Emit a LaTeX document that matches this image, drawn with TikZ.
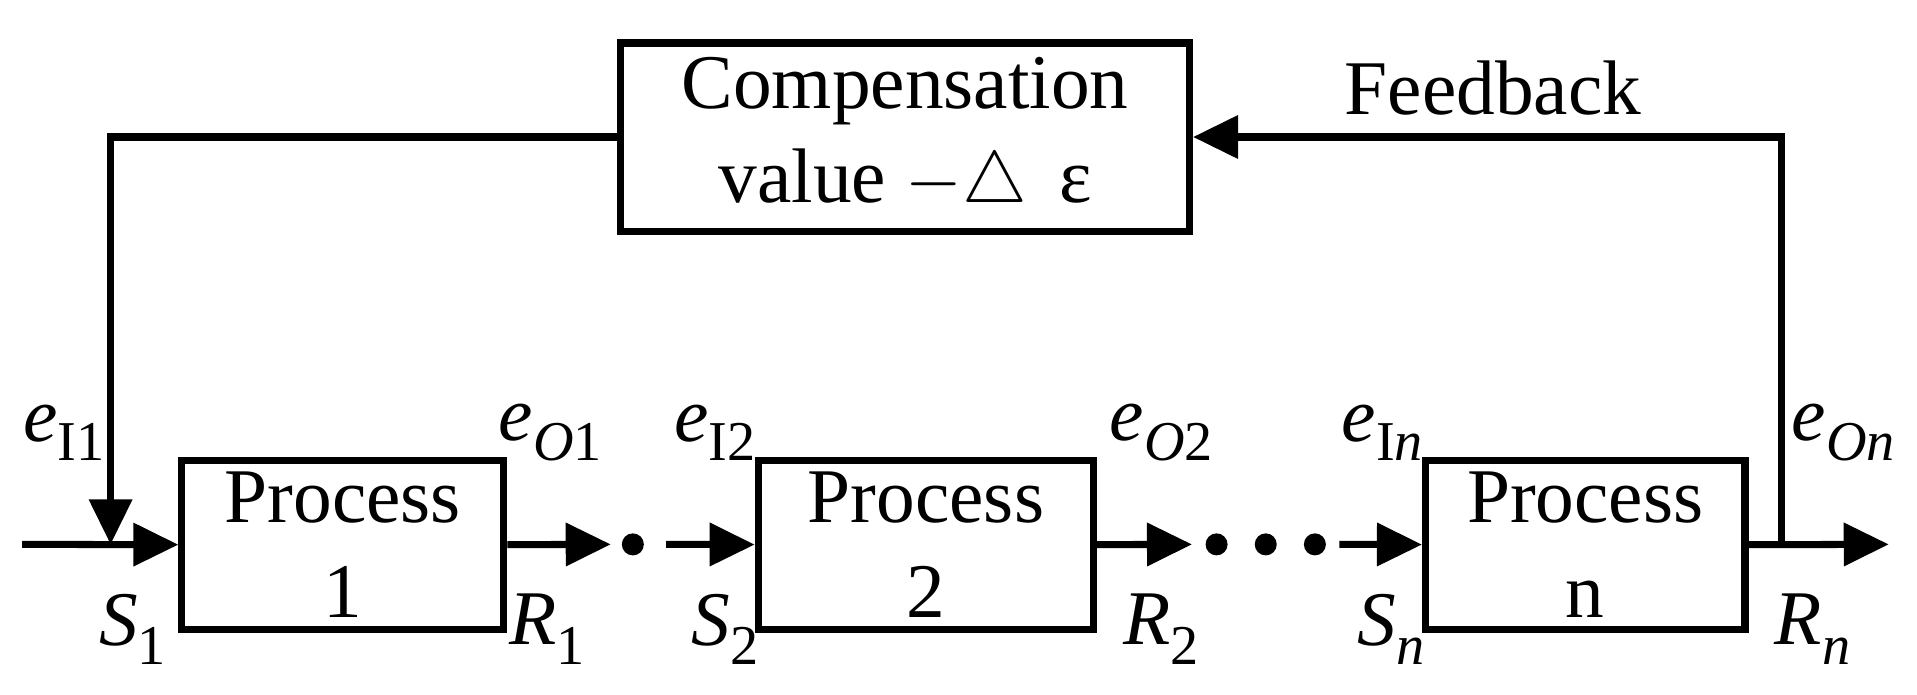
\documentclass[tikz,border=0pt]{standalone}
\usepackage{fontspec}
\setmainfont{Liberation Serif}
\usetikzlibrary{arrows.meta}
\newcommand{\varsub}[2]{\textit{#1}\raisebox{-0.25em}{\fontsize{16}{18}\selectfont #2}}
\begin{document}
\begin{tikzpicture}[x=0.01229cm, y=-0.01229cm]
\tikzstyle{block} = [rectangle, draw, line width=2pt, inner sep=0pt, align=center, font=\fontsize{22}{27}\selectfont]
\tikzstyle{arrow} = [line width=2pt, -{Triangle[length=0.45cm,width=0.42cm]}]
\tikzstyle{lbl} = [font=\fontsize{22}{26}\selectfont]
\tikzstyle{dot} = [circle, fill, inner sep=0pt, minimum size=0.22cm]
\useasboundingbox (0,0) rectangle (1560,565);

\node [block, minimum width=463*0.01229cm, minimum height=153*0.01229cm] (comp) at (736.5,111.5) {Compensation\\value $-\triangle$\, ε};
\node [block, minimum width=262*0.01229cm, minimum height=137*0.01229cm] (p1) at (279,443.5) {Process\\1};
\node [block, minimum width=273*0.01229cm, minimum height=137*0.01229cm] (p2) at (753.5,443.5) {Process\\2};
\node [block, minimum width=260*0.01229cm, minimum height=137*0.01229cm] (pn) at (1290,443.5) {Process\\n};

\node [dot] (d1) at (515,443) {};
\node [dot] (d2) at (990,443) {};
\node [dot] (d3) at (1030,443) {};
\node [dot] (d4) at (1070,443) {};

\coordinate (in) at (18,443);
\coordinate (out) at (1537,443);
\coordinate (tap) at (1450,443);
\coordinate (merge) at (90,443);

\node [lbl] (fb) at (1215,72) {Feedback};
\node [lbl] at (52,352) {\varsub{e}{I1}};
\node [lbl] at (448,352) {\varsub{e}{\textit{O}1}};
\node [lbl] at (582,352) {\varsub{e}{I2}};
\node [lbl] at (945,352) {\varsub{e}{\textit{O}2}};
\node [lbl] at (1125,352) {\varsub{e}{I\textit{n}}};
\node [lbl] at (1500,352) {\varsub{e}{\textit{On}}};
\node [lbl] at (108,512) {\varsub{S}{1}};
\node [lbl] at (445,512) {\varsub{R}{1}};
\node [lbl] at (590,512) {\varsub{S}{2}};
\node [lbl] at (945,512) {\varsub{R}{2}};
\node [lbl] at (1132,512) {\varsub{S}{\textit{n}}};
\node [lbl] at (1475,512) {\varsub{R}{\textit{n}}};

\draw [arrow] (in) -- (p1);
\draw [arrow] (p1) -- (497,443);
\draw [arrow] (542,443) -- (p2);
\draw [arrow] (p2) -- (970,443);
\draw [arrow] (1090,443) -- (pn);
\draw [arrow] (pn) -- (out);
\draw [arrow] (tap) |- (comp.east);
\draw [arrow] (comp.west) -| (merge);
\end{tikzpicture}
\end{document}
